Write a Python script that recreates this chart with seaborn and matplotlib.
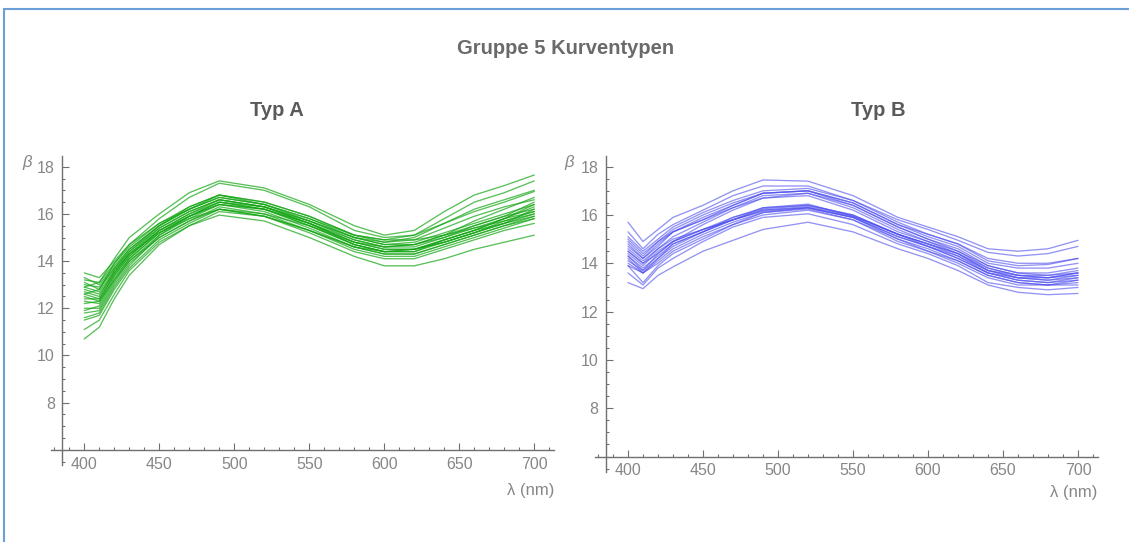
import matplotlib
matplotlib.use('Agg')
import numpy as np
import pandas as pd
import matplotlib.pyplot as plt
import seaborn as sns
from matplotlib.ticker import MultipleLocator
from matplotlib.lines import Line2D

# wavelengths (nm) where every curve was sampled
wavelengths = [400, 410, 420, 430, 450, 470, 490, 520, 550, 580, 600, 620, 640, 660, 680, 700]

# Typ A curves (beta values)
typ_a = [
    [12.9, 13.1, 14.1, 15.0, 16.0, 16.9, 17.4, 17.1, 16.4, 15.5, 15.1, 15.3, 16.1, 16.8, 17.2, 17.65],
    [12.6, 12.8, 13.9, 14.7, 15.8, 16.7, 17.3, 17.0, 16.3, 15.3, 15.0, 15.1, 15.8, 16.5, 16.9, 17.4],
    [13.5, 13.3, 14.0, 14.7, 15.6, 16.2, 16.8, 16.5, 15.9, 15.1, 14.9, 15.1, 15.6, 16.1, 16.5, 16.95],
    [13.3, 13.0, 13.8, 14.5, 15.5, 16.2, 16.7, 16.4, 15.7, 14.9, 14.6, 14.7, 15.0, 15.5, 15.9, 16.5],
    [13.0, 12.9, 13.7, 14.4, 15.4, 16.1, 16.6, 16.3, 15.6, 14.8, 14.5, 14.5, 14.8, 15.2, 15.6, 16.2],
    [12.8, 12.6, 13.5, 14.3, 15.3, 16.0, 16.5, 16.2, 15.5, 14.7, 14.4, 14.5, 14.9, 15.3, 15.8, 16.4],
    [12.5, 12.3, 13.4, 14.2, 15.3, 16.0, 16.6, 16.3, 15.6, 14.9, 14.6, 14.7, 15.1, 15.7, 16.2, 16.7],
    [12.3, 12.2, 13.3, 14.1, 15.2, 15.9, 16.4, 16.1, 15.4, 14.6, 14.3, 14.3, 14.7, 15.1, 15.5, 15.9],
    [12.0, 12.0, 13.1, 14.0, 15.1, 15.8, 16.4, 16.2, 15.6, 14.8, 14.5, 14.5, 14.8, 15.2, 15.6, 16.0],
    [11.8, 11.9, 13.0, 13.9, 15.0, 15.7, 16.3, 16.0, 15.3, 14.5, 14.2, 14.2, 14.6, 15.0, 15.4, 15.8],
    [11.5, 11.7, 12.8, 13.7, 14.9, 15.6, 16.2, 15.9, 15.2, 14.4, 14.1, 14.1, 14.5, 14.9, 15.3, 15.6],
    [11.1, 11.5, 12.6, 13.6, 14.8, 15.5, 15.95, 15.7, 15.0, 14.2, 13.8, 13.8, 14.1, 14.5, 14.8, 15.1],
    [10.7, 11.2, 12.4, 13.4, 14.7, 15.5, 16.1, 15.9, 15.3, 14.6, 14.3, 14.3, 14.7, 15.1, 15.5, 15.8],
    [11.6, 11.8, 12.9, 13.8, 15.1, 15.9, 16.5, 16.3, 15.7, 15.0, 14.7, 14.7, 15.1, 15.5, 15.9, 16.2],
    [12.7, 12.5, 13.6, 14.4, 15.5, 16.3, 16.8, 16.5, 15.9, 15.1, 14.8, 14.9, 15.4, 15.9, 16.3, 16.6],
    [13.2, 13.1, 13.9, 14.6, 15.6, 16.3, 16.8, 16.4, 15.8, 15.0, 14.8, 15.0, 15.6, 16.2, 16.6, 17.0],
    [12.9, 12.7, 13.6, 14.3, 15.2, 15.8, 16.2, 15.9, 15.3, 14.6, 14.4, 14.5, 14.9, 15.3, 15.6, 15.9],
    [12.2, 12.3, 13.2, 14.0, 15.0, 15.7, 16.2, 16.0, 15.5, 14.8, 14.6, 14.6, 15.0, 15.4, 15.7, 16.0],
    [13.1, 12.8, 13.7, 14.5, 15.5, 16.2, 16.7, 16.4, 15.8, 15.1, 14.9, 14.9, 15.1, 15.4, 15.8, 16.1],
    [12.4, 12.4, 13.4, 14.2, 15.3, 15.9, 16.4, 16.2, 15.6, 14.7, 14.4, 14.4, 14.8, 15.2, 15.7, 16.1],
    [11.9, 12.1, 13.2, 14.1, 15.2, 15.9, 16.5, 16.2, 15.5, 14.7, 14.4, 14.4, 14.9, 15.3, 15.8, 16.3],
    [12.6, 12.4, 13.5, 14.3, 15.4, 16.1, 16.6, 16.3, 15.7, 15.0, 14.7, 14.8, 15.2, 15.6, 16.0, 16.4],
]

# Typ B curves
typ_b = [
    [15.7, 14.9, 15.4, 15.9, 16.4, 17.0, 17.45, 17.4, 16.8, 15.9, 15.5, 15.1, 14.6, 14.5, 14.6, 14.95],
    [15.3, 14.6, 15.2, 15.6, 16.2, 16.8, 17.2, 17.2, 16.6, 15.8, 15.4, 14.95, 14.45, 14.3, 14.4, 14.7],
    [15.1, 14.5, 15.0, 15.5, 16.1, 16.6, 17.0, 17.1, 16.6, 15.7, 15.2, 14.8, 14.1, 13.9, 13.95, 14.2],
    [14.9, 14.3, 14.9, 15.4, 16.0, 16.5, 16.9, 17.0, 16.5, 15.6, 15.1, 14.7, 14.0, 13.8, 13.8, 14.0],
    [14.7, 14.2, 14.7, 15.3, 15.9, 16.4, 16.9, 17.0, 16.4, 15.5, 15.0, 14.5, 13.9, 13.6, 13.6, 13.8],
    [14.5, 14.0, 14.6, 15.1, 15.7, 16.3, 16.8, 16.9, 16.3, 15.4, 14.9, 14.4, 13.7, 13.5, 13.5, 13.7],
    [14.3, 13.7, 14.4, 14.9, 15.6, 16.2, 16.7, 16.9, 16.4, 15.5, 15.0, 14.6, 13.9, 13.6, 13.5, 13.6],
    [14.2, 13.6, 14.2, 14.8, 15.3, 15.8, 16.3, 16.4, 16.0, 15.2, 14.8, 14.3, 13.7, 13.4, 13.3, 13.5],
    [14.4, 13.9, 14.5, 14.9, 15.4, 15.8, 16.2, 16.35, 15.95, 15.2, 14.8, 14.4, 13.8, 13.5, 13.4, 13.6],
    [14.6, 14.1, 14.6, 15.0, 15.4, 15.8, 16.15, 16.3, 15.9, 15.1, 14.7, 14.3, 13.6, 13.3, 13.2, 13.4],
    [14.0, 13.6, 14.1, 14.6, 15.2, 15.7, 16.1, 16.25, 15.8, 15.0, 14.6, 14.1, 13.5, 13.2, 13.1, 13.3],
    [13.9, 13.6, 14.0, 14.5, 15.1, 15.6, 16.0, 16.2, 15.8, 14.9, 14.5, 14.0, 13.4, 13.1, 13.1, 13.2],
    [13.6, 13.1, 13.8, 14.2, 14.9, 15.5, 15.9, 16.05, 15.6, 14.8, 14.4, 13.9, 13.2, 13.0, 12.9, 13.0],
    [13.2, 12.95, 13.5, 13.85, 14.5, 14.95, 15.4, 15.7, 15.3, 14.6, 14.2, 13.7, 13.1, 12.8, 12.7, 12.75],
    [14.8, 14.2, 14.8, 15.3, 15.8, 16.3, 16.7, 16.8, 16.2, 15.3, 14.9, 14.5, 13.8, 13.5, 13.4, 13.5],
    [14.3, 13.8, 14.3, 14.8, 15.3, 15.8, 16.2, 16.3, 15.9, 15.1, 14.7, 14.2, 13.6, 13.3, 13.2, 13.3],
    [15.0, 14.4, 14.9, 15.3, 15.8, 16.4, 16.9, 17.0, 16.5, 15.6, 15.2, 14.8, 14.2, 14.0, 14.0, 14.2],
    [14.1, 13.7, 14.2, 14.7, 15.3, 15.9, 16.3, 16.45, 15.95, 15.2, 14.7, 14.2, 13.6, 13.4, 13.4, 13.6],
    [14.5, 14.0, 14.4, 14.9, 15.4, 15.9, 16.25, 16.4, 16.0, 15.2, 14.8, 14.4, 13.7, 13.4, 13.3, 13.4],
    [13.9, 13.2, 13.9, 14.4, 15.0, 15.6, 16.1, 16.3, 15.9, 15.0, 14.5, 14.1, 13.5, 13.2, 13.1, 13.1],
]


def to_long(curves):
    rows = []
    for i, curve in enumerate(curves):
        for wl, b in zip(wavelengths, curve):
            rows.append({'curve': i, 'wavelength': wl, 'beta': b})
    return pd.DataFrame(rows)


sns.set_style('white')
plt.rcParams['font.family'] = ['Liberation Sans', 'DejaVu Sans']

axis_col = '#707070'
label_col = '#878787'

W, H = 1129, 542
fig = plt.figure(figsize=(W / 100, H / 100), dpi=100)


def setup_axes(ax):
    ax.set_xlim(378, 713)
    ax.set_ylim(5.35, 18.45)
    for side in ['top', 'right']:
        ax.spines[side].set_visible(False)
    ax.spines['left'].set_position(('data', 385))
    ax.spines['bottom'].set_position(('data', 6))
    for side in ['left', 'bottom']:
        ax.spines[side].set_color(axis_col)
        ax.spines[side].set_linewidth(1.0)
    ax.set_xticks([400, 450, 500, 550, 600, 650, 700])
    ax.xaxis.set_minor_locator(MultipleLocator(10))
    ax.set_yticks([8, 10, 12, 14, 16, 18])
    ax.yaxis.set_minor_locator(MultipleLocator(0.5))
    ax.tick_params(which='both', direction='in', bottom=True, left=True,
                   color=axis_col, labelcolor=label_col,
                   labelsize=11.5, pad=5, width=0.8)
    ax.tick_params(which='major', length=5)
    ax.tick_params(which='minor', length=2.5)
    ax.set_xlabel('')
    ax.set_ylabel('')
    ax.set_facecolor('none')


# left panel: Typ A
ax1 = fig.add_axes([51.3 / W, 1 - 465.2 / H, 502.5 / W, 309.1 / H])
sns.lineplot(data=to_long(typ_a), x='wavelength', y='beta', units='curve', estimator=None,
             color='#12a512', alpha=0.7, linewidth=0.95, ax=ax1, legend=False)
setup_axes(ax1)

# right panel: Typ B
ax2 = fig.add_axes([595 / W, 1 - 472.2 / H, 502.5 / W, 316.4 / H])
sns.lineplot(data=to_long(typ_b), x='wavelength', y='beta', units='curve', estimator=None,
             color='#4b4bef', alpha=0.6, linewidth=0.95, ax=ax2, legend=False)
setup_axes(ax2)

# texts
fig.text(566 / W, 1 - 48 / H, 'Gruppe 5 Kurventypen', ha='center', va='center',
         fontsize=14.5, fontweight='bold', color='#6a6a6a')
fig.text(277 / W, 1 - 110 / H, 'Typ A', ha='center', va='center',
         fontsize=14.5, fontweight='bold', color='#5a5a5a')
fig.text(878 / W, 1 - 110 / H, 'Typ B', ha='center', va='center',
         fontsize=14.5, fontweight='bold', color='#5a5a5a')
fig.text(27 / W, 1 - 162 / H, 'β', ha='center', va='center', fontsize=12,
         style='italic', color=label_col)
fig.text(569 / W, 1 - 162 / H, 'β', ha='center', va='center', fontsize=12,
         style='italic', color=label_col)
fig.text(554 / W, 1 - 490 / H, 'λ (nm)', ha='right', va='center', fontsize=12,
         color=label_col)
fig.text(1097 / W, 1 - 492 / H, 'λ (nm)', ha='right', va='center', fontsize=12,
         color=label_col)

# frame of the surrounding window
fig.add_artist(Line2D([4 / W, 1], [1 - 9 / H, 1 - 9 / H], transform=fig.transFigure,
                      color='#6a9fd8', linewidth=1.5))
fig.add_artist(Line2D([4 / W, 4 / W], [0, 1 - 9 / H], transform=fig.transFigure,
                      color='#6a9fd8', linewidth=1.5))

fig.savefig('out.png', dpi=100)
